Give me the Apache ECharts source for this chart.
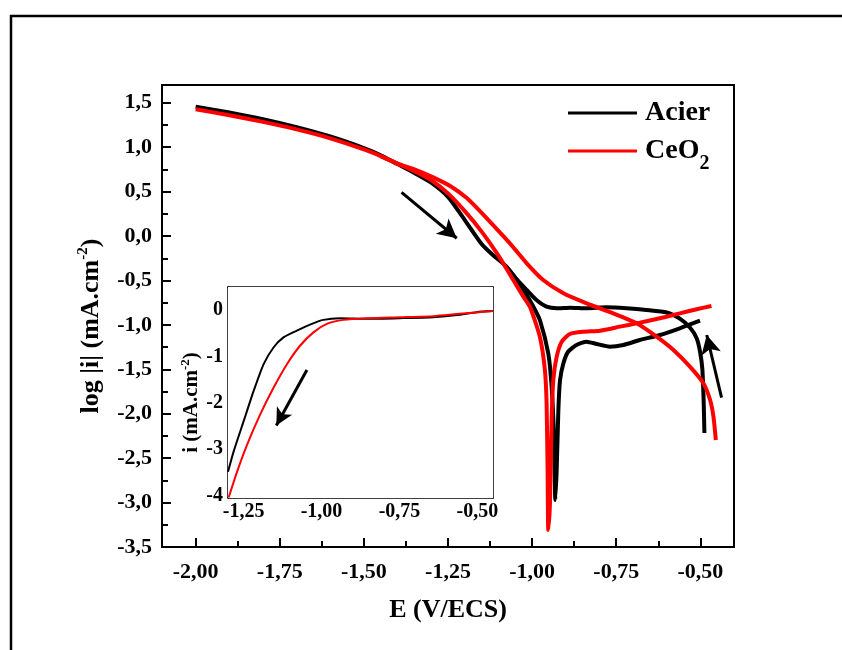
<!DOCTYPE html>
<html><head><meta charset="utf-8">
<script src="https://cdn.jsdelivr.net/npm/echarts@6/dist/echarts.min.js"></script>
<style>html,body{margin:0;padding:0;background:#fff}#c{width:842px;height:650px}</style>
</head><body><div id="c"></div>
<script>
// ---------- main plot data: E (V/ECS) and log|i| ----------
const acierFwdE    = [-2.000,-1.900,-1.800,-1.700,-1.600,-1.500,-1.450,-1.400,-1.350,-1.300,-1.250,-1.200,-1.150,-1.115,-1.080,-1.050,-1.020,-0.997,-0.977,-0.952,-0.942,-0.935,-0.931,-0.927,-0.922,-0.917,-0.907,-0.893,-0.868,-0.838,-0.808,-0.769,-0.729,-0.680,-0.620,-0.561,-0.501];
const acierFwdLogI = [ 1.456, 1.390, 1.315, 1.225, 1.120, 0.990, 0.910, 0.810, 0.710, 0.600, 0.440, 0.180,-0.090,-0.220,-0.330,-0.470,-0.640,-0.790,-0.945,-1.320,-1.696,-2.258,-2.971,-2.633,-1.958,-1.620,-1.432,-1.302,-1.226,-1.189,-1.215,-1.245,-1.226,-1.170,-1.114,-1.038,-0.953];
const acierRevE    = [-0.488,-0.490,-0.494,-0.501,-0.511,-0.531,-0.561,-0.600,-0.660,-0.719,-0.778,-0.838,-0.887,-0.927,-0.957,-0.987,-1.016,-1.050,-1.080];
const acierRevLogI = [-2.217,-1.880,-1.500,-1.300,-1.150,-1.030,-0.930,-0.860,-0.832,-0.813,-0.802,-0.813,-0.806,-0.813,-0.795,-0.720,-0.607,-0.470,-0.330];
const ceo2FwdE     = [-2.000,-1.900,-1.800,-1.700,-1.600,-1.500,-1.450,-1.400,-1.350,-1.300,-1.250,-1.200,-1.150,-1.100,-1.056,-1.026,-1.006,-0.977,-0.962,-0.957,-0.954,-0.952,-0.947,-0.942,-0.937,-0.927,-0.912,-0.888,-0.848,-0.798,-0.739,-0.680,-0.620,-0.561,-0.511,-0.467];
const ceo2FwdLogI  = [ 1.426, 1.360, 1.285, 1.200, 1.100, 0.975, 0.900, 0.815, 0.730, 0.630, 0.480, 0.280, 0.050,-0.220,-0.495,-0.683,-0.800,-1.133,-1.508,-1.882,-2.633,-3.308,-3.008,-2.070,-1.620,-1.358,-1.189,-1.102,-1.077,-1.065,-1.020,-0.975,-0.926,-0.870,-0.824,-0.787];
const ceo2RevE     = [-0.454,-0.461,-0.471,-0.491,-0.531,-0.580,-0.630,-0.689,-0.759,-0.838,-0.907,-0.967,-1.016,-1.066,-1.125,-1.160,-1.195,-1.240,-1.294,-1.350,-1.400,-1.450];
const ceo2RevLogI  = [-2.296,-2.033,-1.845,-1.657,-1.470,-1.283,-1.133,-0.982,-0.870,-0.757,-0.644,-0.495,-0.307,-0.082, 0.160, 0.300, 0.430, 0.555, 0.660, 0.750, 0.815, 0.900];

// ---------- inset data: E (V) and i (mA.cm-2) ----------
const insetAcierE = [-1.300,-1.282,-1.250,-1.218,-1.186,-1.154,-1.122,-1.079,-1.037,-0.994,-0.941,-0.855,-0.749,-0.642,-0.557,-0.503,-0.450];
const insetAcierI = [-3.485,-3.050,-2.398,-1.746,-1.167,-0.804,-0.587,-0.441,-0.311,-0.209,-0.173,-0.187,-0.173,-0.152,-0.100,-0.043,-0.020];
const insetCeo2E  = [-1.298,-1.271,-1.239,-1.197,-1.154,-1.111,-1.069,-1.026,-0.983,-0.930,-0.855,-0.749,-0.642,-0.557,-0.450];
const insetCeo2I  = [-4.040,-3.485,-2.904,-2.252,-1.674,-1.165,-0.767,-0.478,-0.296,-0.209,-0.173,-0.152,-0.130,-0.079,-0.020];

// ---------- ticks ----------
const mainXTicks  = [-2.0,-1.75,-1.5,-1.25,-1.0,-0.75,-0.5];
const mainXMinor  = [-1.875,-1.625,-1.375,-1.125,-0.875,-0.625];
const mainYTicks  = [-3.5,-3.0,-2.5,-2.0,-1.5,-1.0,-0.5,0.0,0.5,1.0,1.5];
const mainYMinor  = [-3.25,-2.75,-2.25,-1.75,-1.25,-0.75,-0.25,0.25,0.75,1.25];
const insetXTicks = [-1.25,-1.0,-0.75,-0.5];
const insetXMinor = [-1.125,-0.875,-0.625];
const insetYTicks = [-4,-3,-2,-1,0];
const insetYMinor = [-3.5,-2.5,-1.5,-0.5];

// ---------- annotation arrows (data coords: [start, tip]) ----------
const arrowMainCathodic = [[-1.388, 0.492], [-1.224,-0.025]];
const arrowMainAnodic   = [[-0.437,-1.819], [-0.481,-1.114]];
const arrowInset        = [[-1.047,-1.289], [-1.145,-2.485]];

const FONT = 'Liberation Serif';
const zip = (a, b) => a.map((v, i) => [v, b[i]]);
const comma = d => v => v.toFixed(d).replace('.', ',');
const txt = (size) => ({fontFamily: FONT, fontWeight: 'bold', fontSize: size, color: '#000'});

function ax(grid, min, max, pos, ticks, len, lbl, extra) {
  return Object.assign({
    type: 'value', gridIndex: grid, min, max, position: pos,
    axisLine: {show: !!extra && extra.line, onZero: false, lineStyle: {color: '#000', width: extra && extra.lw || 2}},
    axisTick: {show: true, inside: true, length: len, customValues: ticks, lineStyle: {color: '#000', width: extra && extra.tw || 2}},
    axisLabel: lbl ? Object.assign({show: true, customValues: ticks}, lbl) : {show: false},
    splitLine: {show: false}
  }, extra && extra.more || {});
}

const axX = [
  ax(0, -2.1, -0.4, 'bottom', mainXTicks, 9, Object.assign({formatter: comma(2), margin: 14}, txt(22)),
      {line: true, lw: 2, more: {name: 'E (V/ECS)', nameLocation: 'middle', nameGap: 50, nameTextStyle: txt(26)}}),
  ax(0, -2.1, -0.4, 'bottom', mainXMinor, 6, null, {line: false}),
  ax(1, -1.30, -0.45, 'bottom', insetXTicks, 6, Object.assign({formatter: comma(2), margin: 4}, txt(20)), {line: true, lw: 1.5, tw: 1.5}),
  ax(1, -1.30, -0.45, 'bottom', insetXMinor, 3.5, null, {line: false, tw: 1.5}),
  ax(1, -1.30, -0.45, 'top', insetXTicks, 6, null, {line: true, lw: 1.5, tw: 1.5}),
  ax(1, -1.30, -0.45, 'top', insetXMinor, 3.5, null, {line: false, tw: 1.5})
];

const axY = [
  ax(0, -3.5, 1.7, 'left', mainYTicks, 9, Object.assign({formatter: comma(1), margin: 10}, txt(22)),
      {line: true, lw: 2, more: {name: '{a|log |i| (mA.cm}{s|-2}{a|)}', nameLocation: 'middle', nameGap: 56,
        nameRotate: 90, nameTextStyle: Object.assign(txt(26), {padding: [0, 20, 0, 0], rich: {a: Object.assign(txt(26), {lineHeight: 30}), s: Object.assign(txt(15), {lineHeight: 30, verticalAlign: 'top', padding: [0, 0, 12, 0]})}})}}),
  ax(0, -3.5, 1.7, 'left', mainYMinor, 6, null, {line: false}),
  ax(1, -4.05, 0.5, 'left', insetYTicks, 6, Object.assign({formatter: v => String(Math.round(v)), margin: 5}, txt(20)),
      {line: true, lw: 1.5, tw: 1.5, more: {name: '{a|i (mA.cm}{s|-2}{a|)}', nameLocation: 'middle', nameGap: 24,
        nameRotate: 90, nameTextStyle: Object.assign(txt(21), {padding: [0, 20, 0, 0], rich: {a: Object.assign(txt(21), {lineHeight: 24}), s: Object.assign(txt(13), {lineHeight: 24, verticalAlign: 'top', padding: [0, 0, 10, 0]})}})}}),
  ax(1, -4.05, 0.5, 'left', insetYMinor, 3.5, null, {line: false, tw: 1.5}),
  ax(1, -4.05, 0.5, 'right', insetYTicks, 6, null, {line: true, lw: 1.5, tw: 1.5}),
  ax(1, -4.05, 0.5, 'right', insetYMinor, 3.5, null, {line: false, tw: 1.5})
];

const arrowMark = (arrows, size) => ({
  silent: true, animation: false, symbol: ['none', 'arrow'], symbolSize: size,
  label: {show: false}, emphasis: {disabled: true},
  lineStyle: {color: '#000', width: 3, type: 'solid'},
  data: arrows.map(a => [{coord: a[0]}, {coord: a[1]}])
});

const lineSeries = (name, xi, yi, data, color, width, extra) => Object.assign({
  name, type: 'line', xAxisIndex: xi, yAxisIndex: yi, data, symbol: 'none', showSymbol: false,
  smooth: 0.2, color, itemStyle: {color}, lineStyle: {color, width}, emphasis: {disabled: true}, animation: false, z: 3
}, extra || {});

const chart = echarts.init(document.getElementById('c'), null, {renderer: 'canvas'});
chart.setOption({
  backgroundColor: '#fff',
  animation: false,
  graphic: [{type: 'rect', shape: {x: 11, y: 16, width: 1000, height: 1000}, style: {fill: 'none', stroke: '#000', lineWidth: 2.5}, silent: true, z: -1}],
  grid: [
    {left: 162, top: 85, width: 572, height: 462, show: true, borderColor: '#000', borderWidth: 2, backgroundColor: 'transparent'},
    {left: 228, top: 287, width: 265, height: 211, show: true, borderColor: '#000', borderWidth: 0, backgroundColor: '#fff', z: 5}
  ],
  xAxis: axX,
  yAxis: axY,
  legend: {
    data: ['Acier', 'CeO2'], orient: 'vertical', left: 568, top: 98, padding: 0,
    itemWidth: 69, itemHeight: 3, icon: 'rect', itemGap: 0, selectedMode: false,
    formatter: name => name === 'CeO2' ? 'CeO{s|2}' : name,
    textStyle: Object.assign(txt(28), {lineHeight: 30, padding: [0, 0, 0, 3],
      rich: {s: Object.assign(txt(20), {lineHeight: 46, verticalAlign: 'bottom'})}})
  },
  series: [
    lineSeries('Acier', 0, 0, zip(acierFwdE, acierFwdLogI), '#000000', 4, {markLine: arrowMark([arrowMainCathodic, arrowMainAnodic], [15, 19])}),
    lineSeries('Acier', 0, 0, zip(acierRevE, acierRevLogI), '#000000', 4),
    lineSeries('CeO2', 0, 0, zip(ceo2FwdE, ceo2FwdLogI), '#ff0000', 4),
    lineSeries('CeO2', 0, 0, zip(ceo2RevE, ceo2RevLogI), '#ff0000', 4),
    lineSeries('Acier inset', 2, 2, zip(insetAcierE, insetAcierI), '#000000', 2, {z: 10, markLine: arrowMark([arrowInset], [13, 17])}),
    lineSeries('CeO2 inset', 2, 2, zip(insetCeo2E, insetCeo2I), '#ff0000', 2, {z: 10})
  ]
});
</script></body></html>
